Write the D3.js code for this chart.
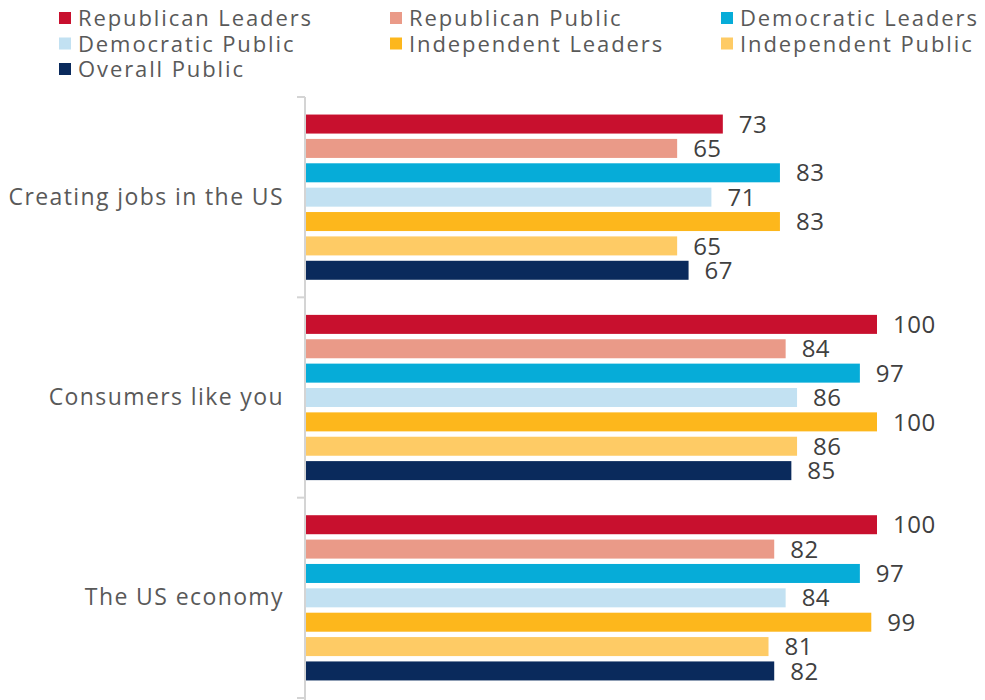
<!DOCTYPE html>
<html>
<head>
<meta charset="utf-8">
<script src="https://cdn.jsdelivr.net/npm/d3@7"></script>
<style>
  body { margin: 0; background: #fff; }
  text { font-family: "Open Sans", sans-serif; }
</style>
</head>
<body>
<div id="chart"></div>
<script>
const width = 985, height = 700;

const categories = ["Creating jobs in the US", "Consumers like you", "The US economy"];
const seriesNames = ["Republican Leaders", "Republican Public", "Democratic Leaders",
  "Democratic Public", "Independent Leaders", "Independent Public", "Overall Public"];
const colors = ["#c8102e", "#ea9a88", "#06acd8", "#c2e1f2", "#fdb71c", "#fecb65", "#0a2a5c"];

// values per series, in category order
const republicanLeaders = [73, 100, 100];
const republicanPublic = [65, 84, 82];
const democraticLeaders = [83, 97, 97];
const democraticPublic = [71, 86, 84];
const independentLeaders = [83, 100, 99];
const independentPublic = [65, 86, 81];
const overallPublic = [67, 85, 82];

const seriesValues = [republicanLeaders, republicanPublic, democraticLeaders,
  democraticPublic, independentLeaders, independentPublic, overallPublic];

const svg = d3.select("#chart")
  .append("svg")
  .attr("width", width)
  .attr("height", height);

// legend, 3 columns
const legendCols = [59, 390, 721];
const legend = svg.append("g");
seriesNames.forEach((name, i) => {
  const col = i % 3, row = Math.floor(i / 3);
  const g = legend.append("g")
    .attr("transform", `translate(${legendCols[col]},${12 + row * 25.5})`);
  g.append("rect")
    .attr("width", 12).attr("height", 12)
    .attr("fill", colors[i]);
  g.append("text")
    .attr("x", 19).attr("y", 14)
    .attr("font-size", 22)
    .attr("letter-spacing", 1.9)
    .attr("fill", "#595959")
    .text(name);
});

// scales
const y0 = d3.scaleBand()
  .domain(categories)
  .range([97, 698]);

const y1 = d3.scaleBand()
  .domain(seriesNames)
  .range([0, y0.bandwidth()])
  .paddingInner(0.22)
  .paddingOuter(0.72);

const x = d3.scaleLinear()
  .domain([0, 100])
  .range([306, 877]);

// axis
const yAxis = svg.append("g")
  .attr("transform", "translate(305,0)")
  .call(d3.axisLeft(y0).tickSize(0).tickPadding(21).tickFormat(d => d));
yAxis.select(".domain").remove();
yAxis.selectAll("text")
  .attr("font-size", 23)
  .attr("letter-spacing", 1.4)
  .attr("fill", "#595959")
  .style("font-family", "'Open Sans', sans-serif");

const axisColor = "#d4d4d4";
svg.append("line")
  .attr("x1", 305).attr("x2", 305)
  .attr("y1", y0.range()[0]).attr("y2", height)
  .attr("stroke", axisColor).attr("stroke-width", 2);

const boundaries = categories.map(c => y0(c)).concat([y0.range()[1]]);
svg.selectAll(".sep")
  .data(boundaries)
  .join("line")
  .attr("x1", 297).attr("x2", 305)
  .attr("y1", d => d).attr("y2", d => d)
  .attr("stroke", axisColor).attr("stroke-width", 2);

// bars
const groups = svg.selectAll(".cat")
  .data(categories)
  .join("g")
  .attr("transform", d => `translate(0,${y0(d)})`);

groups.each(function (cat, ci) {
  const g = d3.select(this);
  const rows = seriesNames.map((s, si) => ({ s, si, v: seriesValues[si][ci] }));
  g.selectAll("rect")
    .data(rows)
    .join("rect")
    .attr("x", x(0))
    .attr("y", d => y1(d.s))
    .attr("width", d => x(d.v) - x(0))
    .attr("height", y1.bandwidth())
    .attr("fill", d => colors[d.si]);
  g.selectAll(".val")
    .data(rows)
    .join("text")
    .attr("class", "val")
    .attr("x", d => x(d.v) + 16)
    .attr("y", d => y1(d.s) + y1.bandwidth() / 2)
    .attr("dy", "0.36em")
    .attr("font-size", 24)
    .attr("letter-spacing", 0.5)
    .attr("fill", "#404040")
    .text(d => d.v);
});
</script>
</body>
</html>
